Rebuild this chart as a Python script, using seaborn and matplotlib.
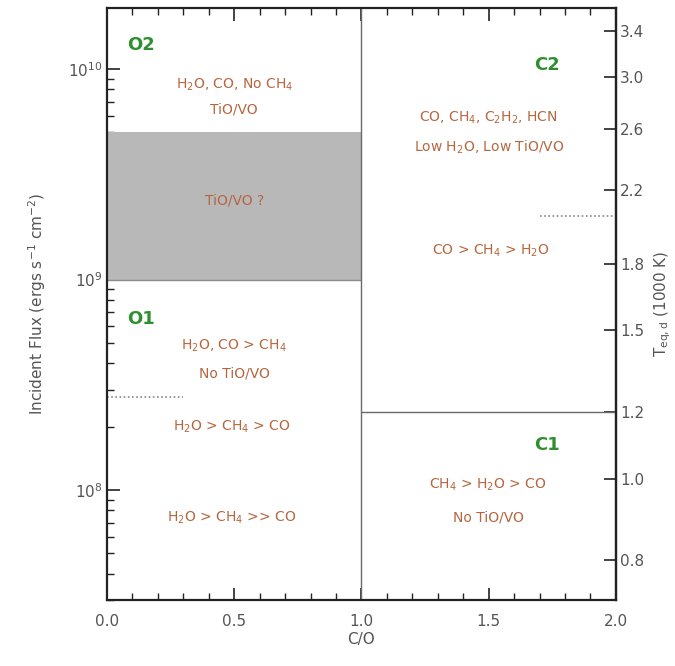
import numpy as np
import pandas as pd
import seaborn as sns
import matplotlib.pyplot as plt
from matplotlib.ticker import MultipleLocator, LogLocator, NullLocator, FixedLocator

# Region boundaries (C/O, incident flux in erg/s/cm^2)
co_split = 1.0
tio_band = [1e9, 5e9]
c_split_flux = 2.35e8
o_dotted = [0.0, 0.3, 2.77e8]
c_dotted = [1.7, 2.0, 2.0e9]

# Region names and their descriptions
region_names = ["O2", "O1", "C2", "C1"]
region_x = [0.08, 0.08, 1.68, 1.68]
region_y = [1.3e10, 6.5e8, 1.05e10, 1.64e8]

notes = [
    r"H$_2$O, CO, No CH$_4$", "TiO/VO", "TiO/VO ?",
    r"H$_2$O, CO > CH$_4$", "No TiO/VO",
    r"H$_2$O > CH$_4$ > CO", r"H$_2$O > CH$_4$ >> CO",
    r"CO, CH$_4$, C$_2$H$_2$, HCN", r"Low H$_2$O, Low TiO/VO",
    r"CO > CH$_4$ > H$_2$O",
    r"CH$_4$ > H$_2$O > CO", "No TiO/VO",
]
note_x = [0.5, 0.5, 0.5, 0.5, 0.5, 0.49, 0.49, 1.5, 1.5, 1.51, 1.495, 1.5]
note_y = [8.4e9, 6.4e9, 2.37e9, 4.85e8, 3.57e8, 2.0e8, 7.4e7,
          5.85e9, 4.27e9, 1.37e9, 1.06e8, 7.4e7]

# right axis: equilibrium temperature (1000 K)
teq_ticks = [0.8, 1.0, 1.2, 1.5, 1.8, 2.2, 2.6, 3.0, 3.4]
sigma = 5.67e-5

sns.set_style("ticks")
plt.rcParams["font.family"] = ["DejaVu Sans"]
plt.rcParams["xtick.direction"] = "in"
plt.rcParams["ytick.direction"] = "in"

gray = "#555555"
green = "#2f8f2f"
brown = "#b5663f"

fig = plt.figure(figsize=(6.75, 6.66), dpi=100)
ax = fig.add_axes([0.1585, 0.099, 0.754, 0.889])
ax.set_yscale("log")
ax.set_xlim(0, 2)
ax.set_ylim(3.0e7, 1.95e10)

# shaded TiO/VO band
ax.fill_between([0, co_split], tio_band[0], tio_band[1], color="#b8b8b8", lw=0, zorder=1)
ax.plot([0, co_split], [tio_band[0]] * 2, color="#8a8a8a", lw=1, zorder=2)

# boundaries
ax.axvline(co_split, color="#6a6a6a", lw=1)
seg = pd.DataFrame({"x": [co_split, 2.0], "y": [c_split_flux, c_split_flux]})
sns.lineplot(data=seg, x="x", y="y", color="#6a6a6a", lw=1, ax=ax)
ax.plot(o_dotted[:2], [o_dotted[2]] * 2, color="#888888", lw=1.2, ls=(0, (1, 1.5)))
ax.plot(c_dotted[:2], [c_dotted[2]] * 2, color="#888888", lw=1.2, ls=(0, (1, 1.5)))
ax.set_xlim(0, 2)
ax.set_ylim(3.0e7, 1.95e10)

for name, x, y in zip(region_names, region_x, region_y):
    ax.text(x, y, name, color=green, fontsize=13, fontweight="bold",
            ha="left", va="center")
for t, x, y in zip(notes, note_x, note_y):
    ax.text(x, y, t, color=brown, fontsize=10, ha="center", va="center")

ax.set_xlabel("C/O", color=gray, fontsize=11, labelpad=2)
ax.set_ylabel(r"Incident Flux (ergs s$^{-1}$ cm$^{-2}$)", color=gray, fontsize=11, labelpad=14)

ax.xaxis.set_major_locator(MultipleLocator(0.5))
ax.xaxis.set_minor_locator(MultipleLocator(0.1))
ax.xaxis.set_major_formatter(lambda v, p: f"{v:.1f}")
ax.yaxis.set_major_locator(LogLocator(base=10))
ax.yaxis.set_minor_locator(LogLocator(base=10, subs=np.arange(2, 10)))
ax.tick_params(which="both", direction="in", top=True, right=False, colors="#222222",
               labelcolor=gray, labelsize=11)
ax.tick_params(which="major", length=9, width=1.2)
ax.tick_params(which="minor", length=5, width=1)
ax.tick_params(axis="x", pad=10)

def f2t(f):
    return (np.clip(f, 1e-30, None) / (2 * sigma)) ** 0.25 / 1000.0

def t2f(t):
    return 2 * sigma * (np.asarray(t) * 1000.0) ** 4

sec = ax.secondary_yaxis("right", functions=(f2t, t2f))
sec.yaxis.set_major_locator(FixedLocator(teq_ticks))
sec.yaxis.set_minor_locator(NullLocator())
sec.yaxis.set_major_formatter(lambda v, p: f"{v:.1f}")
sec.yaxis.set_tick_params(which="major", direction="in", length=9, width=1.2, color="#222222",
                          labelcolor=gray, labelsize=11, pad=3)
sec.set_ylabel(r"T$_{\rm eq,d}$ (1000 K)", color=gray, fontsize=11, labelpad=6)

for s in ax.spines.values():
    s.set_linewidth(1.6)
    s.set_color("#222222")
for s in sec.spines.values():
    s.set_linewidth(1.6)
    s.set_color("#222222")

fig.savefig("out.png", dpi=100)
